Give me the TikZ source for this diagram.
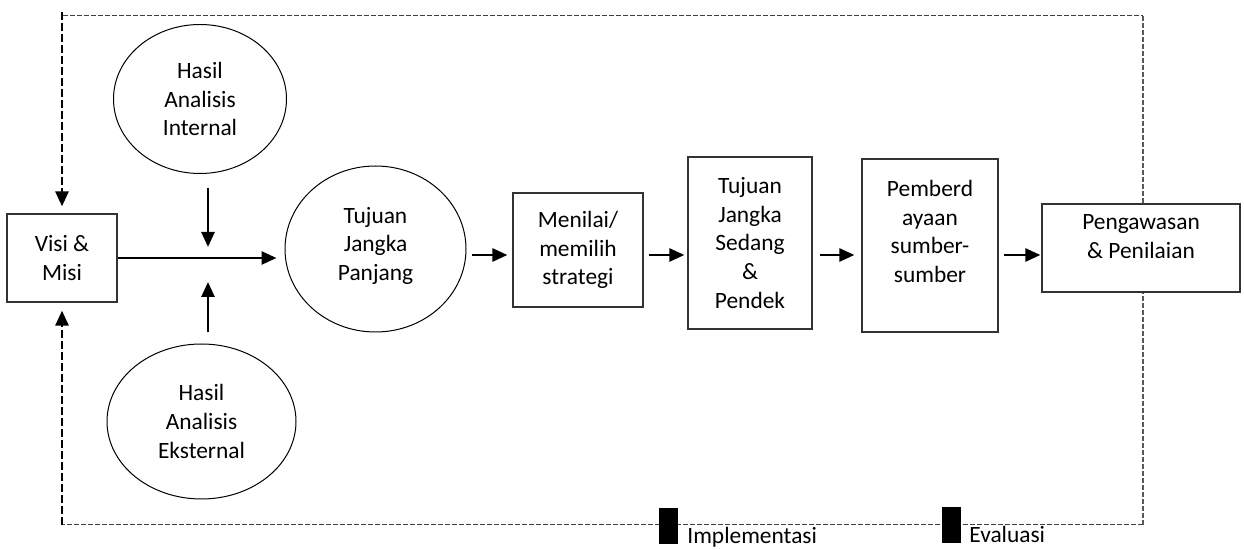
\documentclass[tikz,border=0pt]{standalone}
\usepackage{fontspec}
\setmainfont{Carlito}
\usetikzlibrary{shapes.geometric,arrows.meta}

\tikzset{
	txt/.style={font=\fontsize{11.7}{14.3}\selectfont, align=center},
	box/.style={txt, draw=black!80, line width=0.6pt, fill=white, inner sep=0pt},
	oval/.style={txt, ellipse, draw, line width=0.5pt, fill=white, inner sep=0pt},
	flow/.style={line width=1.3pt, -{Triangle[length=7.5pt,width=6.5pt]}, shorten <=2.5pt, shorten >=2.5pt},
	back/.style={flow, dash pattern=on 4pt off 1.5pt, shorten <=0pt},
	frame/.style={black!75, line width=0.5pt, dash pattern=on 2.5pt off 1pt},
	marker/.style={fill=black, inner sep=0pt, minimum width=9.5pt, minimum height=18pt}
}

\begin{document}
\begin{tikzpicture}[x=0.5pt, y=-0.5pt]
	\useasboundingbox (0,0) rectangle (1244,550);
	\coordinate (vTop) at (62,12);
	\coordinate (fTL) at (63,16);
	\coordinate (fTR) at (1143,16);
	\coordinate (fBR) at (1143,525);
	\coordinate (fBL) at (62,525);
	\coordinate (join) at (208,258);
	\coordinate (row) at (0,255);
	
	% feedback frame
	\draw[frame] (fTL) -- (fTR);
	\draw[frame, black!65, line width=0.9pt] (fTR) -- (fBR);
	\draw[frame] (fBR) -- (fBL);
	
	\node[box, minimum width=55pt, minimum height=44pt] (visi) at (62,258) {Visi \&\\Misi};
	\node[oval, minimum width=86.5pt, minimum height=74.5pt] (intern) at (200,99) {Hasil\\Analisis\\Internal};
	\node[oval, minimum width=94.5pt, minimum height=77.5pt] (extern) at (201.5,421.5) {Hasil\\Analisis\\Eksternal};
	\node[oval, minimum width=90.5pt, minimum height=83pt] (panjang) at (375.5,249) {Tujuan\\Jangka\\Panjang\\[-9pt]\mbox{}};
	\node[box, minimum width=65pt, minimum height=57pt] (menilai) at (578,250) {Menilai/\\memilih\\strategi};
	\node[box, minimum width=62pt, minimum height=86pt] (sedang) at (750,243) {Tujuan\\Jangka\\Sedang\\\&\\Pendek};
	\node[box, minimum width=68pt, minimum height=86.5pt] (daya) at (930,245.5) {Pemberd\\ayaan\\sumber-\\sumber\\\mbox{}};
	\node[box, minimum width=99pt, minimum height=44pt] (awas) at (1141,248) {Pengawasan\\\& Penilaian\\[-3pt]\mbox{}};
	
	\draw[back, shorten >=3.5pt] (vTop) -- (visi.north);
	\draw[back, shorten >=4pt] (fBL) -- (visi.south);
	
	\draw[flow, shorten <=0pt, shorten >=4pt] (visi.east) -- (join -| panjang.west);
	\draw[flow, shorten <=7pt, shorten >=5.5pt] (intern.south -| join) -- (join);
	\draw[flow, shorten <=5.5pt, shorten >=12pt] (extern.north -| join) -- (join);
	
	\draw[flow] (panjang.east |- row) -- (menilai.west |- row);
	\draw[flow, shorten >=1.5pt] (menilai.east |- row) -- (sedang.west |- row);
	\draw[flow, shorten <=3.5pt, shorten >=3.5pt] (sedang.east |- row) -- (daya.west |- row);
	\draw[flow, shorten >=0.5pt] (daya.east |- row) -- (awas.west |- row);
	
	\node[marker] (impl) at (668.5,526) {};
	\node[txt, anchor=base west, inner sep=0pt] (implT) at (687,544) {Implementasi};
	\node[marker] (eval) at (951.5,525) {};
	\node[txt, anchor=base west, inner sep=0pt] (evalT) at (969,543) {Evaluasi};
\end{tikzpicture}
\end{document}
